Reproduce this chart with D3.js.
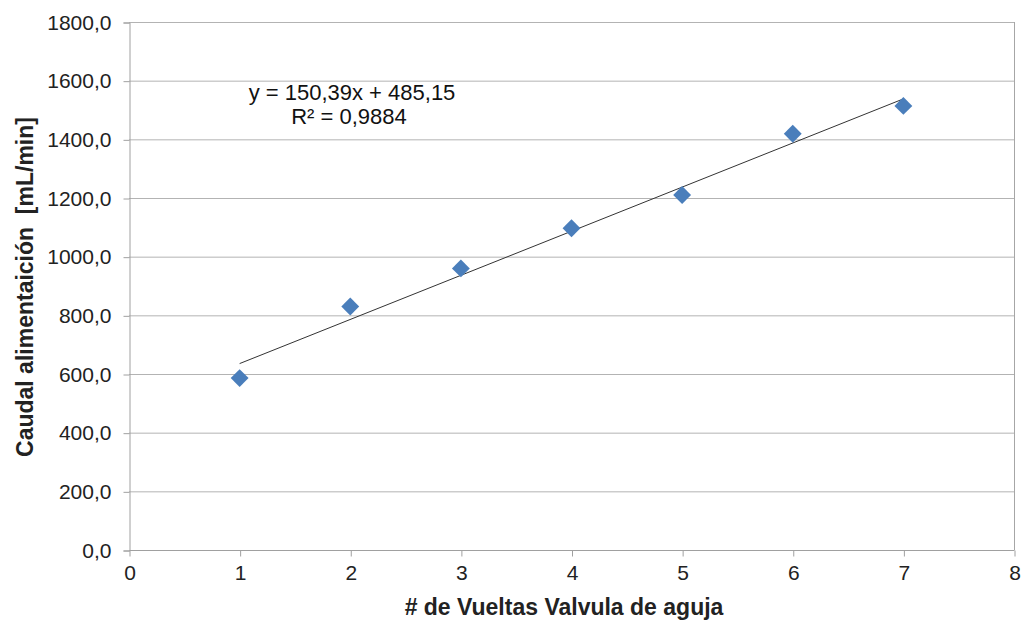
<!DOCTYPE html>
<html><head><meta charset="utf-8">
<script src="https://cdn.jsdelivr.net/npm/d3@7"></script>
<style>body{margin:0;background:#fff}svg{display:block}text{font-family:"Liberation Sans",Arial,sans-serif}</style>
</head><body><svg id="c" width="1022" height="621"></svg>
<script>
const xValues=[1,2,3,4,5,6,7];
const yValues=[586,830,960,1097,1210,1419,1514];
const xTicks=[0,1,2,3,4,5,6,7,8];
const yTicks=[0,200,400,600,800,1000,1200,1400,1600,1800];
const slope=150.39, intercept=485.15;
const eqLines=["y = 150,39x + 485,15","R² = 0,9884"];
const xTitle="# de Vueltas Valvula de aguja";
const yTitle="Caudal alimentaición  [mL/min]";

const svg=d3.select("#c");
const L=129,R=1014,T=22,B=550;
const x=d3.scaleLinear().domain([0,8]).range([L,R]);
const y=d3.scaleLinear().domain([0,1800]).range([B,T]);
const fmt=d=>d3.format(".1f")(d).replace(".",",");

svg.append("g").selectAll("line").data(yTicks.filter(d=>d>0)).join("line")
 .attr("x1",L).attr("x2",R).attr("y1",d=>y(d)+0.5).attr("y2",d=>y(d)+0.5)
 .attr("stroke","#b3b3b3").attr("stroke-width",1);
svg.append("line").attr("x1",R+0.5).attr("x2",R+0.5).attr("y1",T).attr("y2",B).attr("stroke","#a6a6a6");

const xa=svg.append("g").attr("transform",`translate(0.5,${B+0.5})`)
 .call(d3.axisBottom(x).tickValues(xTicks).tickSize(6).tickPadding(9).tickFormat(d3.format("d")));
const ya=svg.append("g").attr("transform",`translate(${L+0.5},0.5)`)
 .call(d3.axisLeft(y).tickValues(yTicks).tickSize(6).tickPadding(12).tickFormat(fmt));
[xa,ya].forEach(a=>{
 a.selectAll("path").attr("stroke","#a0a0a0");
 a.selectAll("line").attr("stroke","#a0a0a0");
 a.selectAll("text").attr("font-size",21).attr("fill","#222").attr("font-family","Liberation Sans, Arial, sans-serif");
});
xa.select(".domain").attr("d",`M${L},0H${R}`);

svg.append("line").attr("x1",x(1)).attr("y1",y(intercept+slope*1))
 .attr("x2",x(7)).attr("y2",y(intercept+slope*7)).attr("stroke","#333").attr("stroke-width",1);

svg.append("g").selectAll("path").data(xValues.map((d,i)=>[d,yValues[i]])).join("path")
 .attr("d",d3.symbol().type(d3.symbolSquare).size(160))
 .attr("transform",d=>`translate(${x(d[0])},${y(d[1])}) rotate(45)`)
 .attr("fill","#4a7ebb");

svg.append("text").attr("x",352).attr("y",100).attr("text-anchor","middle").attr("font-size",22).attr("fill","#111").text(eqLines[0]);
svg.append("text").attr("x",349).attr("y",124).attr("text-anchor","middle").attr("font-size",22).attr("fill","#111").text(eqLines[1]);

svg.append("text").attr("x",564).attr("y",615).attr("text-anchor","middle").attr("font-size",23).attr("font-weight","bold").attr("fill","#222").text(xTitle);
svg.append("text").attr("transform",`translate(33,287) rotate(-90)`).attr("text-anchor","middle").attr("font-size",23).attr("font-weight","bold").attr("fill","#222").style("white-space","pre").text(yTitle);
</script></body></html>
